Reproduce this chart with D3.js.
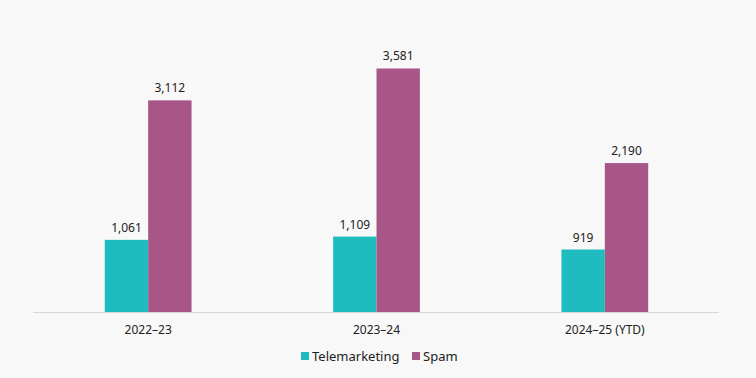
<!DOCTYPE html>
<html>
<head>
<meta charset="utf-8">
<script src="https://cdn.jsdelivr.net/npm/d3@7"></script>
<style>
  body { margin: 0; background: #f8f8f8; }
  svg { display: block; font-family: "Noto Sans", sans-serif; }
</style>
</head>
<body>
<script>
// Data
var categories = ["2022\u201323", "2023\u201324", "2024\u201325 (YTD)"];
var seriesNames = ["Telemarketing", "Spam"];
var telemarketing = [1061, 1109, 919];
var spam = [3112, 3581, 2190];
var colors = ["#1fbcbf", "#a85587"];

var width = 756, height = 378;
var margin = { left: 34, right: 37, top: 40, bottom: 66 };

var svg = d3.select("body").append("svg")
    .attr("width", width)
    .attr("height", height);

svg.append("rect")
    .attr("width", width).attr("height", height)
    .attr("fill", "#f8f8f8");

var x0 = d3.scaleBand()
    .domain(categories)
    .range([margin.left, width - margin.right])
    .paddingInner(0.62)
    .paddingOuter(0.31);

var x1 = d3.scaleBand()
    .domain(seriesNames)
    .range([0, x0.bandwidth()]);

var y = d3.scaleLinear()
    .domain([0, 4000])
    .range([height - margin.bottom, margin.top]);

var rows = categories.map(function (c, i) {
    return { cat: c, values: [telemarketing[i], spam[i]] };
});

var group = svg.selectAll(".group")
    .data(rows)
    .enter().append("g")
    .attr("class", "group")
    .attr("transform", function (d) { return "translate(" + x0(d.cat) + ",0)"; });

group.selectAll("rect")
    .data(function (d) { return d.values.map(function (v, j) { return { name: seriesNames[j], value: v, j: j }; }); })
    .enter().append("rect")
    .attr("x", function (d) { return x1(d.name); })
    .attr("y", function (d) { return y(d.value); })
    .attr("width", x1.bandwidth())
    .attr("height", function (d) { return y(0) - y(d.value); })
    .attr("fill", function (d) { return colors[d.j]; });

group.selectAll(".val")
    .data(function (d) { return d.values.map(function (v, j) { return { name: seriesNames[j], value: v }; }); })
    .enter().append("text")
    .attr("class", "val")
    .attr("x", function (d) { return x1(d.name) + x1.bandwidth() / 2; })
    .attr("y", function (d) { return y(d.value) - 8; })
    .attr("text-anchor", "middle")
    .attr("font-size", 12)
    .attr("fill", "#222")
    .text(function (d) { return d3.format(",")(d.value); });

// X axis
var xAxis = svg.append("g")
    .attr("transform", "translate(0," + y(0) + ")")
    .call(d3.axisBottom(x0).tickSize(0).tickPadding(13));
xAxis.select(".domain")
    .attr("stroke", "#d6d6d6").attr("stroke-width", 1)
    .attr("d", "M33,0.5H719");
xAxis.selectAll("text")
    .attr("font-size", 12)
    .attr("fill", "#222")
    .style("font-family", "\"Noto Sans\", sans-serif");

// Legend
var legend = svg.append("g").attr("transform", "translate(301,356)");
var lx = [0, 111];
seriesNames.forEach(function (s, i) {
    var g = legend.append("g").attr("transform", "translate(" + lx[i] + ",0)");
    g.append("rect").attr("x", 0).attr("y", -4).attr("width", 8).attr("height", 8).attr("fill", colors[i]);
    g.append("text").attr("x", 11).attr("y", 4.5)
        .attr("font-size", 13).attr("fill", "#222").text(s);
});
</script>
</body>
</html>
